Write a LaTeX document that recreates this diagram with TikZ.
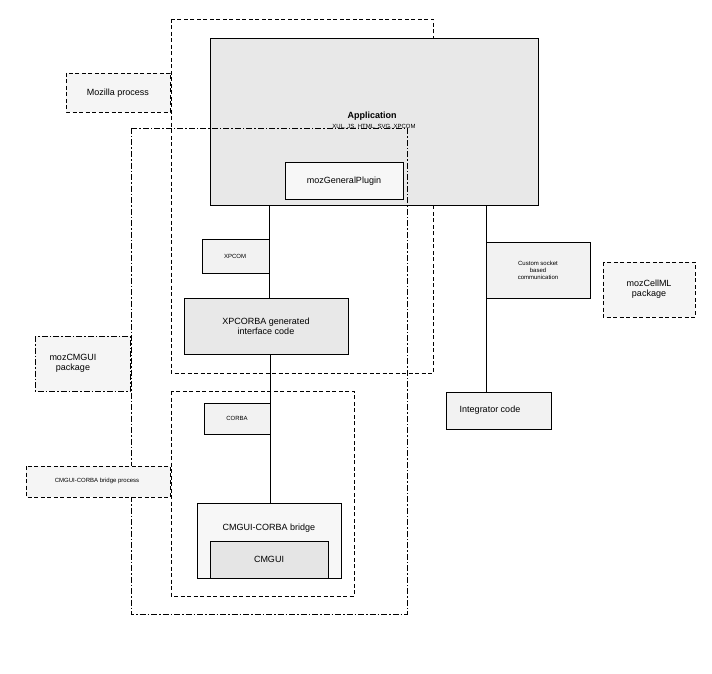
\documentclass[tikz,border=0pt]{standalone}
\usepackage{fontspec}
\setmainfont{Liberation Sans}
\begin{document}
\begin{tikzpicture}[x=1pt,y=-1pt,
  box/.style={draw=black,line width=0.8pt,fill=#1},
  box/.default={black!7},
  dsh/.style={draw=black,line width=0.8pt,dash pattern=on 4pt off 2.5pt},
  dd/.style={draw=black,line width=0.8pt,dash pattern=on 6pt off 2pt on 1.5pt off 2pt},
  lbl/.style={font=\fontsize{9}{10}\selectfont,align=center},
  sm/.style={font=\fontsize{6}{7}\selectfont,align=center},
  conn/.style={line width=0.8pt}]
\useasboundingbox (0,0) rectangle (712,674);
% containers
\draw[dsh] (171,19) rectangle (433,373);
\node[box=black!9,minimum width=0,inner sep=0] (app) at (374,121.5) {};
\draw[box=black!9] (210,38) rectangle (538,205);
\coordinate (appA) at (269,205); \coordinate (appB) at (486,205);
\node[font=\fontsize{9}{10}\selectfont\bfseries] (apptxt) at (372,116) {Application};
\node[font=\fontsize{6}{7}\selectfont] (appsub) at (374,127) {XUL, JS, HTML, SVG, XPCOM};
\draw[dd] (131,128) rectangle (407,614);
\draw[dsh] (171,391) rectangle (354,596);
% boxes
\draw[box=black!3] (285,162) rectangle (403,199);
\node[lbl] (plug) at (344,181) {mozGeneralPlugin};
\draw[box=black!5] (202,239) rectangle (269,273);
\node[sm] (xpcom) at (235,256) {XPCOM};
\draw[box=black!9] (184,298) rectangle (348,354);
\node[lbl] (xpc) at (266,326) {XPCORBA generated\\interface code};
\draw[box=black!5] (204,403) rectangle (270,434);
\node[sm] (corba) at (237,418) {CORBA};
\draw[box=black!3] (197,503) rectangle (341,578);
\node[lbl] (bridge) at (269,528) {CMGUI-CORBA bridge};
\draw[box=black!10] (210,541) rectangle (328,578);
\node[lbl] (cmgui) at (269,559) {CMGUI};
\draw[box=black!5] (486,242) rectangle (590,298);
\node[sm] (sock) at (538,270) {Custom socket\\based\\communication};
\draw[box=black!5] (446,392) rectangle (551,429);
\node[lbl] (integ) at (490,410) {Integrator code};
% side labels
\draw[dsh,fill=black!4] (66,73) rectangle (170,112);
\node[lbl] (moz) at (118,93) {Mozilla process};
\draw[dd,fill=black!4] (35,336) rectangle (130,391);
\node[lbl] (mozcm) at (73,363) {mozCMGUI\\package};
\draw[dsh,fill=black!4] (26,466) rectangle (170,497);
\node[sm] (brp) at (97,481) {CMGUI-CORBA bridge process};
\draw[dsh,fill=black!4] (603,262) rectangle (695,317);
\node[lbl] (cell) at (649,289) {mozCellML\\package};
% connectors
\coordinate (xpcT) at (269,298);
\coordinate (xpcB) at (270,354);
\coordinate (brT) at (270,503);
\coordinate (intT) at (486,392);
\draw[conn] (appA) -- (xpcT);
\draw[conn] (xpcB) -- (brT);
\draw[conn] (appB) -- (intT);
\end{tikzpicture}
\end{document}
